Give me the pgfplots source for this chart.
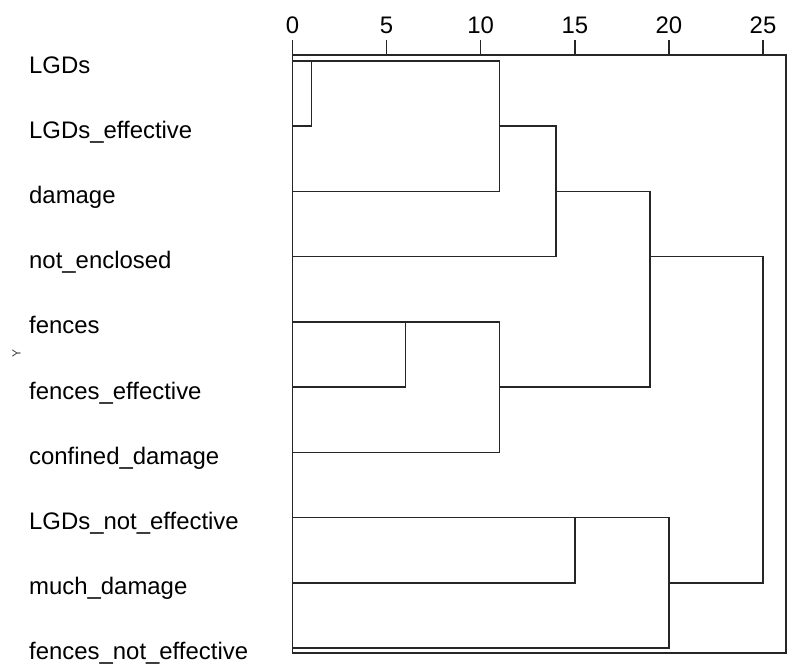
\documentclass[border=0pt]{standalone}
\usepackage{pgfplots}
\pgfplotsset{compat=1.18}
\usepackage{fontspec}
\setmainfont{Liberation Sans}
\begin{document}
\begin{tikzpicture}
\begin{axis}[
  scale only axis, width=493.5bp, height=598bp,
  xmin=0, xmax=26.22, ymin=0.908, ymax=10.077, y dir=reverse,
  clip=false,
  axis line style={black!85, line width=1.4bp},
  xtick={0,5,10,15,20,25},
  xtick pos=right, xticklabel pos=right,
  tick align=outside, major tick length=15bp,
  tick style={black!85, line width=1.4bp},
  ytick=\empty,
  xticklabel style={font=\fontsize{24}{28}\selectfont, text=black, yshift=3bp},
  /pgf/number format/assume math mode=true,
]
\coordinate (tl) at (axis cs:0,0.908);
% dendrogram links: merge heights 1, 11, 14, 6, 11, 19, 15, 20, 25
\addplot[black!85, line width=1.6bp] coordinates {(0,1) (1,1) (1,2) (0,2)};
\addplot[black!85, line width=1.6bp] coordinates {(1,1) (11,1) (11,3) (0,3)};
\addplot[black!85, line width=1.6bp] coordinates {(11,2) (14,2) (14,4) (0,4)};
\addplot[black!85, line width=1.6bp] coordinates {(0,5) (6,5) (6,6) (0,6)};
\addplot[black!85, line width=1.6bp] coordinates {(6,5) (11,5) (11,7) (0,7)};
\addplot[black!85, line width=1.6bp] coordinates {(14,3) (19,3) (19,6) (11,6)};
\addplot[black!85, line width=1.6bp] coordinates {(0,8) (15,8) (15,9) (0,9)};
\addplot[black!85, line width=1.6bp] coordinates {(15,8) (20,8) (20,10) (0,10)};
\addplot[black!85, line width=1.6bp] coordinates {(19,4) (25,4) (25,9) (20,9)};
% leaf labels
\begin{scope}[every node/.style={anchor=base west, inner sep=0pt, xshift=-263.5bp, yshift=-12bp, font=\fontsize{24}{28}\selectfont}]
\node at (axis cs:0,1) {LGDs};
\node at (axis cs:0,2) {LGDs\_effective};
\node at (axis cs:0,3) {damage};
\node at (axis cs:0,4) {not\_enclosed};
\node at (axis cs:0,5) {fences};
\node at (axis cs:0,6) {fences\_effective};
\node at (axis cs:0,7) {confined\_damage};
\node at (axis cs:0,8) {LGDs\_not\_effective};
\node at (axis cs:0,9) {much\_damage};
\node at (axis cs:0,10) {fences\_not\_effective};
\end{scope}
\node[anchor=center, inner sep=0pt, font=\fontsize{12}{14}\selectfont, text=black!75, rotate=90] at ([shift={(-276bp,0bp)}]axis cs:0,5.49) {Y};
\end{axis}
\pgfresetboundingbox
\path[use as bounding box] ([shift={(-292.5bp,55bp)}]tl) rectangle ([shift={(502.5bp,-614bp)}]tl);
\end{tikzpicture}
\end{document}
